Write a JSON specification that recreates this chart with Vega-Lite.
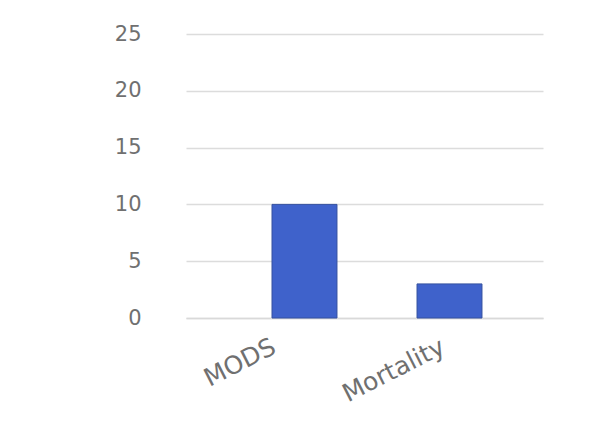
{
  "$schema": "https://vega.github.io/schema/vega-lite/v6.json",
  "width": 357,
  "height": 284,
  "autosize": "none",
  "padding": {"left": 186, "top": 34, "right": 50, "bottom": 104},
  "background": "white",
  "data": {
    "values": [
      {"outcome": "MODS", "count": 10},
      {"outcome": "Mortality", "count": 3}
    ]
  },
  "mark": {"type": "bar", "color": "#3f62cb", "stroke": "#35519f", "strokeWidth": 1},
  "encoding": {
    "x": {
      "field": "outcome",
      "type": "nominal",
      "sort": null,
      "scale": {"paddingInner": 0.552, "paddingOuter": 0.507, "align": 0.585},
      "axis": {
        "title": null,
        "labelAngle": -27,
        "labelAlign": "right",
        "labelBaseline": "top",
        "labelFont": "DejaVu Sans",
        "labelFontSize": 25,
        "labelColor": "#707070",
        "labelPadding": 16,
        "labelOffset": {"condition": {"test": "datum.value === 'MODS'", "value": -36}, "value": -12},
        "ticks": false,
        "domainColor": "#d9d9d9",
        "domainWidth": 1.5
      }
    },
    "y": {
      "field": "count",
      "type": "quantitative",
      "scale": {"domain": [0, 25]},
      "axis": {
        "title": null,
        "values": [0, 5, 10, 15, 20, 25],
        "domain": false,
        "ticks": false,
        "labelFont": "DejaVu Sans",
        "labelFontSize": 21,
        "labelColor": "#707070",
        "labelPadding": 45,
        "gridColor": "#dcdcdc",
        "gridWidth": 1.5
      }
    }
  },
  "config": {"view": {"stroke": null}}
}
